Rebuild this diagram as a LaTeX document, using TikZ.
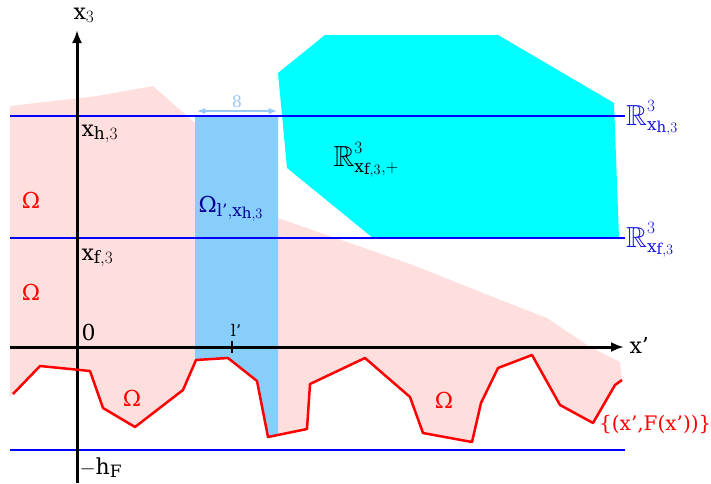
\documentclass[tikz,border=0pt]{standalone}
\usepackage{amsmath}
\usepackage{amssymb}
\usepackage{fontspec}
\setmainfont{DejaVu Serif}
\DeclareMathSizes{22}{22}{17}{15}
\usetikzlibrary{arrows.meta,calc}
\definecolor{domainpink}{RGB}{255,222,222}
\definecolor{bandblue}{RGB}{135,206,250}
\definecolor{widthblue}{RGB}{150,200,250}
\definecolor{bandlabel}{RGB}{0,0,150}
\definecolor{planeblue}{RGB}{20,20,235}
\definecolor{halfspace}{RGB}{0,255,255}
\newcommand{\realsp}{\text{\fontsize{29}{32}\selectfont$\mathbb{R}$}}
\newcommand{\Om}{\text{Ω}}

\begin{document}
\begin{tikzpicture}[x=1pt,y=-1pt,font=\fontsize{22}{26}\selectfont,>=Latex]
\useasboundingbox (0,0) rectangle (711,483);
% regions
\fill[domainpink] (10,106) -- (97,96) -- (153,86) -- (195,123) -- (278,218)
 -- (413,265) -- (483,293) -- (547,318) -- (590,347) -- (620,362) -- (622,380)
 -- (615,385) -- (593,423) -- (560,405) -- (532,355) -- (498,368) -- (481,403)
 -- (472,442) -- (423,433) -- (410,397) -- (365,358) -- (310,384) -- (307,429)
 -- (268,437) -- (257,381) -- (228,358) -- (196,360) -- (183,390) -- (135,427)
 -- (103,408) -- (90,371) -- (40,366) -- (13,394) -- (10,397) -- cycle;
\fill[bandblue] (195,116) -- (278,116) -- (278,435) -- (268,437) -- (257,381)
 -- (228,358) -- (196,360) -- (195,362) -- cycle;
\fill[halfspace] (278,73) -- (325,35) -- (498,35) -- (614,103) -- (619,238)
 -- (373,238) -- (287,168) -- cycle;
% levels
\coordinate (hl) at (10,116);
\coordinate (fl) at (10,238);
\coordinate (bl) at (10,450);
\node[anchor=base west,planeblue,inner sep=1pt] (Rh) at (625,125) {$\realsp^3_{\mathrm{x}_{\mathrm{h},3}}$};
\node[anchor=base west,planeblue,inner sep=1pt] (Rf) at (625,247) {$\realsp^3_{\mathrm{x}_{\mathrm{f},3}}$};
\coordinate (br) at (625,450);
\draw[blue,line width=1.5pt] (hl) -- (hl -| Rh.west);
\draw[blue,line width=1.5pt] (fl) -- (fl -| Rf.west);
\draw[blue,line width=1.5pt] (bl) -- (br);
% band width
\coordinate (wl) at (197,111);
\coordinate (wr) at (277,111);
\draw[<->,widthblue,line width=1.2pt] (wl) -- (wr)
 node[midway,above=-1pt,font=\fontsize{16}{18}\selectfont] {8};
% axes
\coordinate (vb) at (77,483);
\coordinate (vt) at (77,30);
\coordinate (hb) at (10,347);
\coordinate (ht) at (624,347);
\draw[line width=3pt,-{Latex[length=13pt,width=10pt]}] (vb) -- (vt);
\draw[line width=3pt,-{Latex[length=13pt,width=10pt]}] (hb) -- (ht);
\node (x3) at (84,15) {$\mathrm{x}_3$};
\node[anchor=west] (xp) at (626,345) {x'};
\coordinate (lp) at (232,347);
\draw[line width=1.2pt] ($(lp)+(0,-6)$) -- ($(lp)+(0,6)$);
\node[font=\fontsize{16}{18}\selectfont] (lpl) at (236,330) {l'};
% boundary
\draw[red,line width=2.5pt,line join=round] (13,394) -- (40,366) -- (90,371) -- (103,408)
 -- (135,427) -- (183,390) -- (196,360) -- (228,358) -- (257,381) -- (268,437)
 -- (307,429) -- (310,384) -- (365,358) -- (410,397) -- (423,433) -- (472,442)
 -- (481,403) -- (498,368) -- (532,355) -- (560,405) -- (593,423) -- (615,385)
 -- (622,380);
% labels
\node[anchor=west] (xh) at (78,134) {$\mathrm{x}_{\mathrm{h},3}$};
\node[anchor=west] (xf) at (78,258) {$\mathrm{x}_{\mathrm{f},3}$};
\node[anchor=west] (zero) at (78,332) {0};
\node[anchor=west] (hF) at (76,468) {$-\mathrm{h}_{\mathrm{F}}$};
\node[red] (om1) at (31,200) {Ω};
\node[red] (om2) at (31,292) {Ω};
\node[red] (om3) at (132,398) {Ω};
\node[red] (om4) at (444,400) {Ω};
\node[anchor=west,bandlabel] (omb) at (195,209) {$\Om_{\text{l'},\mathrm{x}_{\mathrm{h},3}}$};
\node[anchor=west] (Rp) at (330,160) {$\realsp^3_{\mathrm{x}_{\mathrm{f},3},+}$};
\node[anchor=west,red,inner sep=1pt,font=\fontsize{20}{23}\selectfont] (graph) at (598,425) {\{(x',F(x'))\}};
\end{tikzpicture}
\end{document}
